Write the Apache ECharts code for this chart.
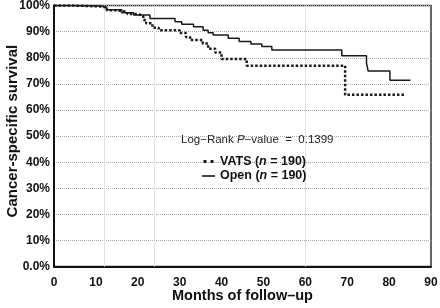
<!DOCTYPE html>
<html><head><meta charset="utf-8">
<script src="https://cdn.jsdelivr.net/npm/echarts@6/dist/echarts.min.js"></script>
<style>html,body{margin:0;padding:0;background:#fff}#c{width:440px;height:308px}</style>
</head><body><div id="c"></div>
<script>
// Kaplan-Meier step points: [months, survival %]
const vatsMonths = [0,5,11,12.6,15,17.5,20,21.3,22,23.5,25,30,31.5,32.5,35.5,36.8,38.5,40,46,69.5,83.8];
const vatsSurv   = [100,99.7,99.3,98.2,97.6,96.8,96.1,94.5,93.2,91.5,90.6,89.5,88,86.8,85.5,83.5,82,79.5,77,65.8,65.8];
const openMonths = [0,5,11,12.6,16.2,19,22.9,28.9,30.5,33.3,35.6,36.8,38,41.6,44.2,47,49.6,52,68.7,74.6,75,80.2,85.1];
const openSurv   = [100,99.8,99.4,98.4,97.3,96.4,95.1,93.8,92.9,91.9,90.6,89.6,88.7,87.5,86.2,85.3,84.3,83.0,80.8,77.9,74.9,71.4,71.4];
const xTicks = [0,10,20,30,40,50,60,70,80,90];
const yTicks = [0,10,20,30,40,50,60,70,80,90,100];
const yearLines = [12,24,60];
const pValue = '0.1399';
const nVats = 190, nOpen = 190;

const font = '"Liberation Sans", Arial, Helvetica, sans-serif';
const chart = echarts.init(document.getElementById('c'), null, {renderer:'canvas'});
const zip = (a,b) => a.map((v,i)=>[v,b[i]]);
chart.setOption({
  animation:false,
  backgroundColor:'#fff',
  grid:{left:54,right:9,top:5.6,bottom:41.4,containLabel:false,outerBoundsMode:'none',
        show:true,borderColor:'#333',borderWidth:1.5,backgroundColor:'transparent'},
  title:{
    text:'Log\u2212Rank {i|P}\u2212value  =  ' + pValue,
    left:181, top:134, padding:0,
    textStyle:{fontFamily:font,fontSize:11.5,fontWeight:'normal',color:'#222',
      rich:{i:{fontFamily:font,fontSize:11.5,fontStyle:'italic',color:'#222'}}}
  },
  legend:{
    orient:'vertical', left:202, top:155, padding:0, itemWidth:13, itemHeight:3, itemGap:1.5,
    data:[
      {name:'VATS', icon:'path://M0,0h3v3h-3z M7,0h3v3h-3z'},
      {name:'Open', icon:'path://M0,0.7h13v1.6h-13z'}
    ],
    formatter: name => name + ' ({i|n} = ' + (name==='VATS'?nVats:nOpen) + ')',
    textStyle:{fontFamily:font,fontSize:12.5,fontWeight:'bold',color:'#111',padding:[0,0,0,0],
      rich:{i:{fontFamily:font,fontSize:12.5,fontWeight:'bold',fontStyle:'italic',color:'#111'}}}
  },
  xAxis:{
    type:'value', min:0, max:90, interval:10,
    name:'Months of follow\u2013up', nameLocation:'middle', nameGap:22, nameMoveOverlap:false,
    nameTextStyle:{fontFamily:font,fontSize:14.5,fontWeight:'bold',color:'#111'},
    axisLine:{show:true,onZero:false,lineStyle:{color:'#111',width:2}},
    axisTick:{show:false},
    axisLabel:{fontFamily:font,fontSize:12,fontWeight:'bold',color:'#111',margin:10,
      formatter:v=> xTicks.includes(v)? String(v):''},
    splitLine:{show:false}
  },
  yAxis:{
    type:'value', min:0, max:100, interval:10,
    name:'Cancer-specific survival', nameLocation:'middle', nameGap:34, nameMoveOverlap:false,
    nameTextStyle:{fontFamily:font,fontSize:15,fontWeight:'bold',color:'#111',padding:[0,0,0,10]},
    axisLine:{show:true,lineStyle:{color:'#111',width:2}},
    axisTick:{show:false},
    axisLabel:{fontFamily:font,fontSize:12,fontWeight:'bold',color:'#111',margin:4,
      formatter:v=> v===0 ? '0.0%' : (yTicks.includes(v)? v+'%':'')},
    splitLine:{show:true,lineStyle:{color:'#aaa',width:1,type:[1,1]}}
  },
  series:[
    {name:'VATS', type:'line', step:'end', symbol:'none', data:zip(vatsMonths,vatsSurv),
     lineStyle:{color:'#1a1a1a',width:2.5,type:[2.5,2]}, itemStyle:{color:'#1a1a1a'}, z:3},
    {name:'Open', type:'line', step:'end', symbol:'none', data:zip(openMonths,openSurv),
     lineStyle:{color:'#1a1a1a',width:1.5,type:'solid'}, itemStyle:{color:'#1a1a1a'}, z:4,
     markLine:{silent:true,symbol:'none',label:{show:false},
       lineStyle:{color:'#e2e2e2',width:1,type:'solid'},
       data:yearLines.map(m=>({xAxis:m})), z:1}}
  ]
});
</script></body></html>
